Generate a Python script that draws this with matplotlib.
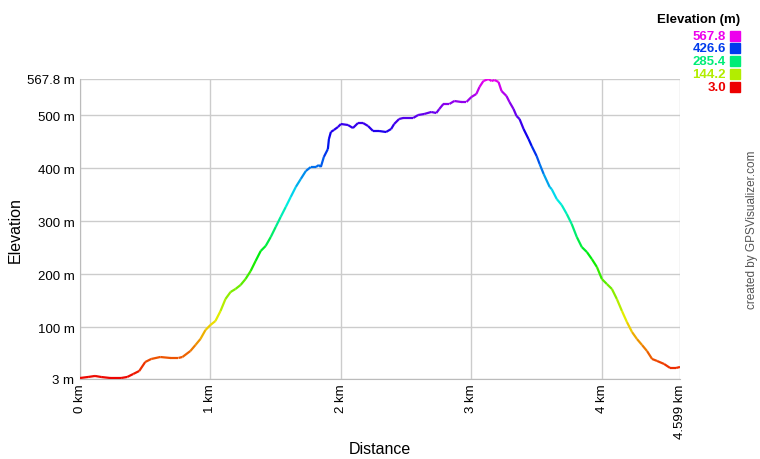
import colorsys

import matplotlib

matplotlib.use("Agg")
import matplotlib.pyplot as plt
import numpy as np
from matplotlib.collections import LineCollection
from matplotlib.patches import Rectangle

plt.rcParams["font.family"] = ["Liberation Sans", "DejaVu Sans"]

# distance along track [km]
distance_km = [
    0.000, 0.062, 0.115, 0.162, 0.231, 0.315, 0.362, 0.408, 0.454, 0.500,
    0.546, 0.615, 0.692, 0.754, 0.785, 0.846, 0.885, 0.923, 0.962, 1.000,
    1.038, 1.077, 1.115, 1.154, 1.192, 1.231, 1.269, 1.308, 1.346, 1.385,
    1.423, 1.462, 1.500, 1.538, 1.577, 1.615, 1.654, 1.692, 1.731, 1.769,
    1.808, 1.831, 1.846, 1.869, 1.900, 1.908, 1.923, 1.946, 1.977, 2.000,
    2.054, 2.092, 2.131, 2.169, 2.208, 2.246, 2.292, 2.346, 2.385, 2.408,
    2.446, 2.477, 2.554, 2.592, 2.638, 2.692, 2.731, 2.754, 2.785, 2.831,
    2.869, 2.923, 2.962, 3.000, 3.038, 3.062, 3.092, 3.131, 3.154, 3.177,
    3.208, 3.231, 3.269, 3.292, 3.323, 3.346, 3.369, 3.400, 3.438, 3.462,
    3.500, 3.523, 3.554, 3.600, 3.615, 3.654, 3.692, 3.731, 3.769, 3.808,
    3.846, 3.885, 3.923, 3.962, 4.000, 4.038, 4.077, 4.115, 4.154, 4.192,
    4.231, 4.269, 4.308, 4.346, 4.385, 4.423, 4.477, 4.523, 4.569, 4.599,
]

# elevation [m]
elevation_m = [
    4.9, 6.8, 8.7, 6.8, 4.9, 4.9, 6.8, 12.4, 18.1, 35.0,
    40.7, 44.4, 42.6, 42.6, 44.4, 55.7, 67.0, 78.3, 95.3, 104.7,
    112.2, 131.0, 153.6, 166.8, 172.5, 180.0, 191.3, 206.3, 225.2, 244.0,
    253.4, 270.3, 289.2, 308.0, 326.8, 345.6, 364.5, 379.5, 394.6, 402.1,
    402.1, 405.9, 402.1, 421.0, 436.0, 454.8, 468.0, 471.8, 477.4, 483.1,
    481.2, 475.5, 485.0, 485.0, 479.3, 469.9, 469.9, 468.0, 473.7, 483.1,
    492.5, 494.4, 494.4, 500.0, 501.9, 505.7, 503.8, 511.3, 520.7, 520.7,
    526.4, 524.5, 524.5, 533.9, 539.6, 552.7, 564.0, 567.8, 564.0, 565.9,
    562.2, 545.2, 535.8, 524.5, 511.3, 498.1, 492.5, 473.7, 454.8, 441.7,
    422.8, 407.8, 388.9, 364.5, 360.7, 341.9, 330.6, 313.6, 294.8, 270.3,
    251.5, 242.1, 228.9, 213.9, 191.3, 181.9, 172.5, 153.6, 131.0, 110.3,
    91.5, 78.3, 67.0, 55.7, 40.7, 37.0, 31.3, 23.8, 23.8, 25.6,
]

elev_min = 3.0
elev_max = 567.8
total_km = 4.599

y_ticks = [3, 100, 200, 300, 400, 500, 567.8]
y_tick_labels = ["3 m", "100 m", "200 m", "300 m", "400 m", "500 m", "567.8 m"]
x_ticks = [0, 1, 2, 3, 4, 4.599]
x_tick_labels = ["0 km", "1 km", "2 km", "3 km", "4 km", "4.599 km"]

legend_values = [567.8, 426.6, 285.4, 144.2, 3.0]


def elevation_color(e):
    frac = (e - elev_min) / (elev_max - elev_min)
    frac = min(max(frac, 0.0), 1.0)
    return colorsys.hsv_to_rgb(frac * 300 / 360, 1.0, 0.93)


fig = plt.figure(figsize=(7.6, 4.6), dpi=100)
ax = fig.add_axes([80 / 760, 80 / 460, 600 / 760, 300 / 460])

x = np.array(distance_km)
y = np.array(elevation_m)
points = np.column_stack([x, y]).reshape(-1, 1, 2)
segments = np.concatenate([points[:-1], points[1:]], axis=1)
seg_colors = [elevation_color((a + b) / 2) for a, b in zip(y[:-1], y[1:])]
lc = LineCollection(segments, colors=seg_colors, linewidths=1.6, capstyle="butt", zorder=3)
ax.add_collection(lc)

ax.set_xlim(0, total_km)
ax.set_ylim(elev_min, elev_max)
ax.set_xticks(x_ticks)
ax.set_xticklabels(x_tick_labels, rotation=90, fontsize=9.5)
ax.set_yticks(y_ticks)
ax.set_yticklabels(y_tick_labels, fontsize=9.5)
ax.tick_params(axis="y", length=0, pad=4)
ax.tick_params(axis="x", length=0, pad=3)
ax.grid(True, color="#cccccc", linewidth=1)
for side in ["top", "right"]:
    ax.spines[side].set_visible(False)
for side in ["left", "bottom"]:
    ax.spines[side].set_color("#bbbbbb")

# axis titles
fig.text(380 / 760, 1 - 450 / 460, "Distance", fontsize=11.5, ha="center", va="center")
fig.text(15 / 760, 1 - 230 / 460, "Elevation", fontsize=11.5, rotation=90,
         ha="center", va="center")

# legend
fig.text(740 / 760, 1 - 20 / 460, "Elevation (m)", fontsize=9.5, fontweight="bold",
         ha="right", va="center")
row_y = [37, 49, 62, 75, 88]
for val, ry in zip(legend_values, row_y):
    c = elevation_color(val)
    fig.text(726 / 760, 1 - ry / 460, f"{val:.1f}", fontsize=9.5, fontweight="bold",
             color=c, ha="right", va="center")
    fig.add_artist(Rectangle((730 / 760, 1 - (ry + 5) / 460), 10 / 760, 10 / 460,
                             transform=fig.transFigure, color=c))

fig.text(752 / 760, 1 - 230 / 460, "created by GPSVisualizer.com", fontsize=8.5,
         color="#555555", rotation=90, ha="center", va="center")

fig.savefig("out.png", dpi=100)
